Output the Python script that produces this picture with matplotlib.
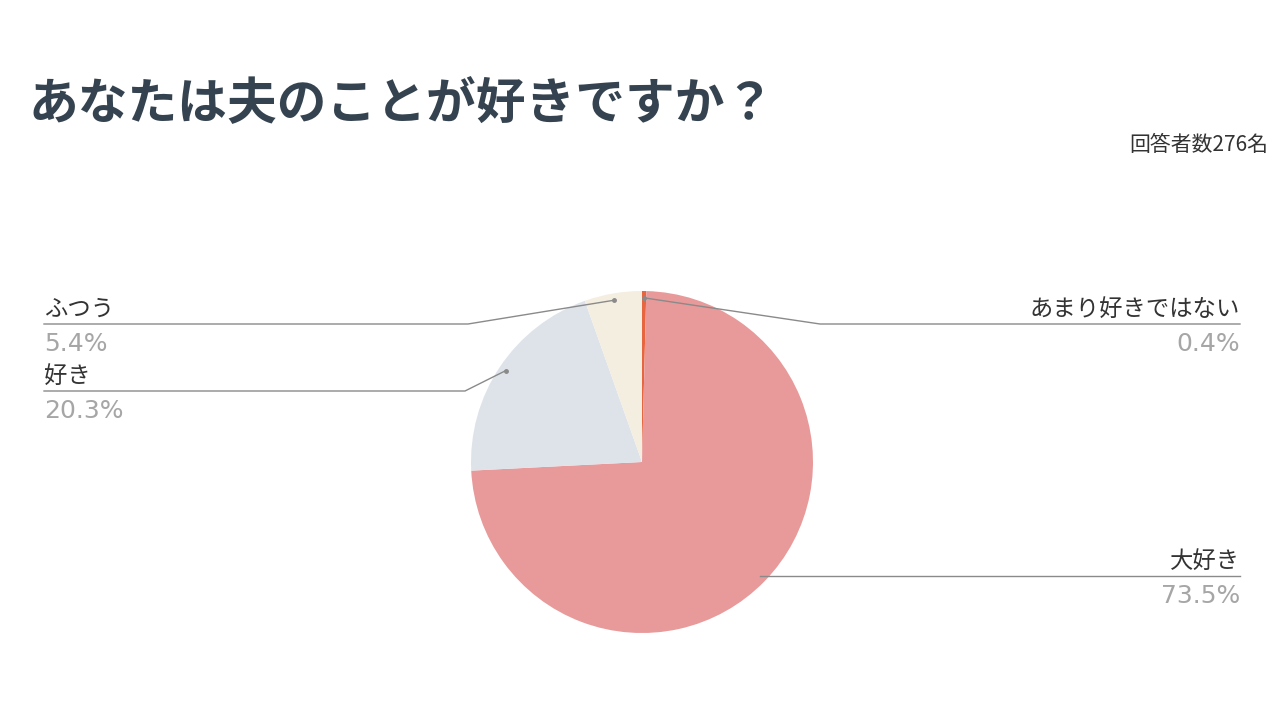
import numpy as np
import matplotlib
matplotlib.use('Agg')
import matplotlib.pyplot as plt

plt.rcParams['font.family'] = ['Noto Sans CJK JP', 'DejaVu Sans']

# data
labels = ['あまり好きではない', '大好き', '好き', 'ふつう']
values = [0.4, 73.5, 20.3, 5.4]
colors = ['#e8663f', '#e89a9a', '#dee3ea', '#f4eee1']
title = 'あなたは夫のことが好きですか？'
note = '回答者数276名'

W, H = 1280, 720
fig = plt.figure(figsize=(W / 100, H / 100), dpi=100)

# pie axes: centre (642, 462), radius 171 px
cx, cy, r = 642, 462, 171
ax = fig.add_axes([(cx - r) / W, (H - cy - r) / H, 2 * r / W, 2 * r / H])
wedges, _ = ax.pie(values, colors=colors, startangle=90, counterclock=False,
                   radius=1, wedgeprops=dict(linewidth=0))
ax.set_xlim(-1, 1)
ax.set_ylim(-1, 1)
ax.axis('off')

# overlay in pixel coords
ov = fig.add_axes([0, 0, 1, 1], zorder=5)
ov.set_xlim(0, W)
ov.set_ylim(H, 0)
ov.axis('off')
ov.patch.set_alpha(0)


def anchor(w, rr=0.96):
    a = np.deg2rad((w.theta1 + w.theta2) / 2)
    p = ax.transData.transform((rr * np.cos(a), rr * np.sin(a)))
    return ov.transData.inverted().transform(p)


# label layout: (line y, elbow x, line end x, side)
layout = {
    'あまり好きではない': (324, 820, 1240, 'right'),
    '大好き': (576, None, 1240, 'right'),
    '好き': (391, 465, 44, 'left'),
    'ふつう': (324, 468, 44, 'left'),
}

line_c = '#8a8a8a'
for w, lab, val in zip(wedges, labels, values):
    ly, ex, endx, side = layout[lab]
    axp, ayp = anchor(w)
    if ex is None:
        xs, ys = [axp, endx], [ly, ly]
    else:
        xs, ys = [axp, ex, endx], [ayp, ly, ly]
        ov.plot([axp], [ayp], 'o', color=line_c, ms=2.5)
    ov.plot(xs, ys, color=line_c, lw=1)
    ha = 'right' if side == 'right' else 'left'
    ov.text(endx, ly - 15, lab, ha=ha, va='center', fontsize=16.8, color='#333333')
    ov.text(endx, ly + 20, f'{val}%', ha=ha, va='center', fontsize=18,
            color='#a6a6a6', family=['DejaVu Sans'])

fig.text(28 / W, 1 - 104 / H, title, ha='left', va='center', fontsize=35.8,
         fontweight='bold', color='#34434f')
fig.text(1268 / W, 1 - 145 / H, note, ha='right', va='center', fontsize=15,
         color='#333333')

fig.savefig('out.png', dpi=100, facecolor='white')
